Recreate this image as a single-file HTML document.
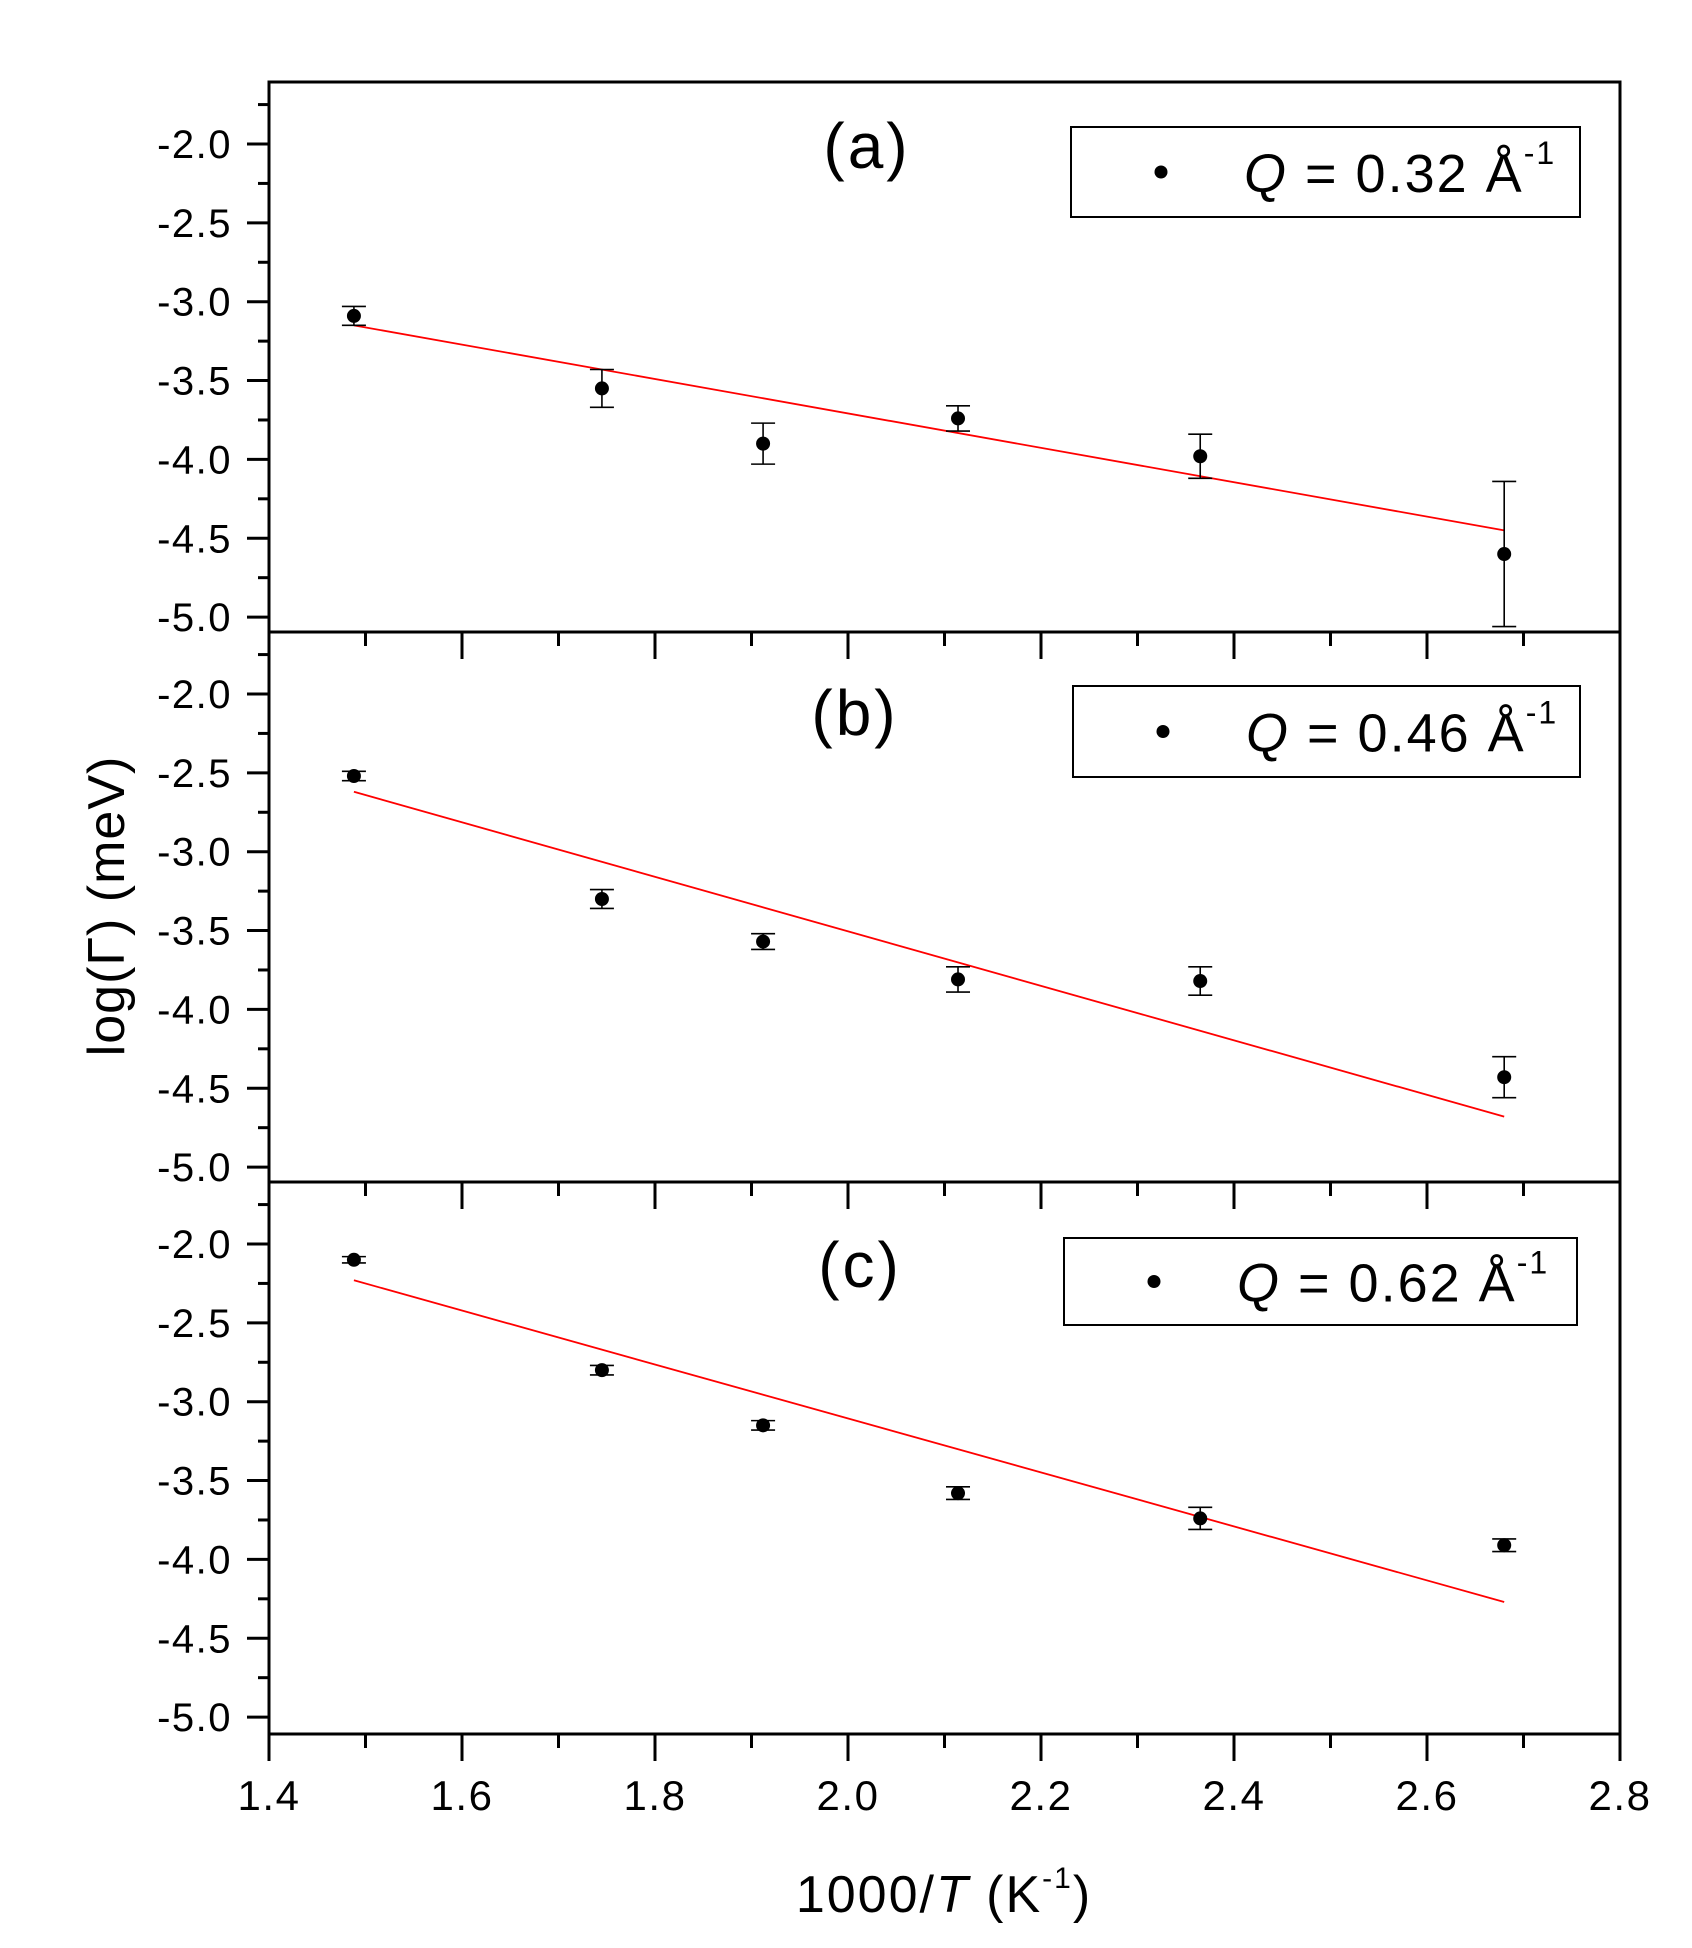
<!DOCTYPE html>
<html><head><meta charset="utf-8"><style>
html,body{margin:0;padding:0;background:#fff;width:1692px;height:1948px;overflow:hidden}
svg{display:block}
text{font-family:"Liberation Sans",Arial,sans-serif;fill:#000}
</style></head><body>
<svg id="s" width="1692" height="1948" xmlns="http://www.w3.org/2000/svg"></svg>
<script>
const s=document.getElementById('s');
let h='';
const X0=269,X1=1620;
const xp=v=>X0+(v-1.4)/1.4*(X1-X0);
const panels=[
 {top:82,bot:632,lab:'(a)',lx:867,ly:168,leg:[1071,127,1580,217],q:'0.32',
  d:[[1.488,-3.09,.06],[1.745,-3.55,.12],[1.912,-3.9,.13],[2.114,-3.74,.08],[2.365,-3.98,.14],[2.68,-4.6,.46]],f:[-3.15,-4.45]},
 {top:632,bot:1182,lab:'(b)',lx:855,ly:735,leg:[1073,686,1580,777],q:'0.46',
  d:[[1.488,-2.52,.03],[1.745,-3.3,.06],[1.912,-3.57,.05],[2.114,-3.81,.08],[2.365,-3.82,.09],[2.68,-4.43,.13]],f:[-2.62,-4.68]},
 {top:1182,bot:1734,lab:'(c)',lx:860,ly:1287,leg:[1064,1238,1577,1325],q:'0.62',
  d:[[1.488,-2.1,.02],[1.745,-2.8,.03],[1.912,-3.15,.03],[2.114,-3.58,.04],[2.365,-3.74,.07],[2.68,-3.91,.04]],f:[-2.23,-4.27]}
];
const step=78.85;
panels.forEach(p=>{
 const yp=v=>p.top+62+(-2.0-v)/0.5*step;
 for(let k=0;k<=14;k++){
  const v=-1.75-k*0.25; const y=yp(v);
  if(y<p.top-2||y>p.bot+2) continue;
  const maj=Math.abs((v*2)-Math.round(v*2))<1e-6;
  h+=`<line x1="${maj?247:258}" y1="${y}" x2="${X0}" y2="${y}" stroke="#000" stroke-width="3"/>`;
  if(maj) h+=`<text x="232" y="${y+14}" font-size="40" letter-spacing="1.5" text-anchor="end">${v.toFixed(1)}</text>`;
 }
 for(let k=0;k<=14;k++){
  const x=xp(1.4+k*0.1); const maj=k%2==0;
  h+=`<line x1="${x}" y1="${p.bot}" x2="${x}" y2="${p.bot+(maj?27:14)}" stroke="#000" stroke-width="3"/>`;
 }
 h+=`<rect x="${X0}" y="${p.top}" width="${X1-X0}" height="${p.bot-p.top}" fill="none" stroke="#000" stroke-width="3"/>`;
 h+=`<line x1="${xp(1.488)}" y1="${yp(p.f[0])}" x2="${xp(2.68)}" y2="${yp(p.f[1])}" stroke="#f00" stroke-width="1.8"/>`;
 p.d.forEach(([x,y,e])=>{
  const cx=xp(x),cy=yp(y),y1=yp(y+e),y2=yp(y-e);
  h+=`<line x1="${cx}" y1="${y1}" x2="${cx}" y2="${y2}" stroke="#000" stroke-width="1.6"/>`;
  h+=`<line x1="${cx-12}" y1="${y1}" x2="${cx+12}" y2="${y1}" stroke="#000" stroke-width="1.6"/>`;
  h+=`<line x1="${cx-12}" y1="${y2}" x2="${cx+12}" y2="${y2}" stroke="#000" stroke-width="1.6"/>`;
  h+=`<circle cx="${cx}" cy="${cy}" r="7" fill="#000"/>`;
 });
 const L=p.leg;
 h+=`<rect x="${L[0]}" y="${L[1]}" width="${L[2]-L[0]}" height="${L[3]-L[1]}" fill="#fff" stroke="#000" stroke-width="2"/>`;
 const my=(L[1]+L[3])/2;
 h+=`<circle cx="${L[0]+90}" cy="${my}" r="6.5" fill="#000"/>`;
 h+=`<text x="${L[0]+173}" y="${my+20}" font-size="54" letter-spacing="2"><tspan font-style="italic">Q</tspan> = ${p.q} Å<tspan font-size="32" dy="-28">-1</tspan></text>`;
 h+=`<text x="${p.lx}" y="${p.ly}" font-size="64" text-anchor="middle" letter-spacing="3">${p.lab}</text>`;
});
for(let k=0;k<=7;k++){
 const v=1.4+k*0.2;
 h+=`<text x="${xp(v)}" y="1810" font-size="42" letter-spacing="1.5" text-anchor="middle">${v.toFixed(1)}</text>`;
}
h+=`<text x="944" y="1912" font-size="52" letter-spacing="2" text-anchor="middle">1000/<tspan font-style="italic">T</tspan> (K<tspan font-size="30" dy="-24">-1</tspan><tspan dy="24">)</tspan></text>`;
h+=`<text transform="translate(124,906) rotate(-90)" font-size="52" letter-spacing="1" text-anchor="middle">log(Γ) (meV)</text>`;
s.innerHTML=h;
</script>
</body></html>
